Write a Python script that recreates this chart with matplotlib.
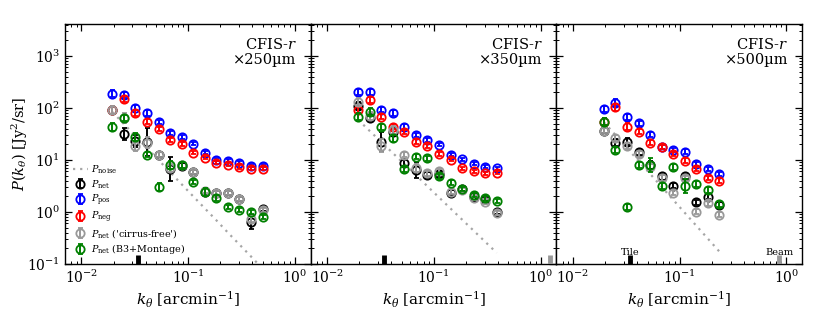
import numpy as np
import matplotlib
matplotlib.use("Agg")
import matplotlib.pyplot as plt

plt.rcParams['font.family'] = ['DejaVu Serif']
plt.rcParams['mathtext.fontset'] = 'dejavuserif'

# ---------------- data ----------------
k_bins = [0.0195, 0.0250, 0.0321, 0.0412, 0.0529, 0.0678, 0.0870,
          0.1116, 0.1432, 0.1838, 0.2358, 0.3025, 0.3881, 0.4980]

bands = ["250", "350", "500"]
n_bins = [14, 13, 11]

# Panel 1 : 250 micron
p1_noise = [83, 49, 28.6, 16.8, 9.9, 5.8, 3.39, 1.99, 1.17, 0.69, 0.40, 0.236, 0.139, 0.081]
p1_net = [91.5, 31.6, 22.8, 22.2, 12.5, 6.7, 7.7, 5.9, 2.42, 2.32, 2.32, 1.78, 0.64, 1.14]
p1_pos = [186, 178, 100, 80, 54, 33, 27.7, 20.3, 13.6, 10, 9.6, 8.75, 7.7, 7.7]
p1_neg = [91.5, 149, 80, 54, 39.5, 24.2, 20.3, 13.6, 10.9, 8.75, 8.0, 7.3, 6.7, 6.7]
p1_cf = [91.5, 64, 18.6, 21.5, 12.5, 7.0, 8.0, 5.9, 2.5, 2.32, 2.32, 1.78, 0.73, 1.09]
p1_b3 = [43, 64, 27.7, 12.5, 3.0, 8.0, 8.0, 3.7, 2.42, 1.83, 1.25, 1.09, 1.0, 0.80]
p1_net_err = [0.08, 0.12, 0.12, 0.27, 0.05, 0.23, 0.05, 0.04, 0.05, 0.04, 0.04, 0.04, 0.14, 0.04]
p1_pos_err = [0.07, 0.06, 0.05, 0.05, 0.04, 0.04, 0.04, 0.03, 0.03, 0.03, 0.03, 0.03, 0.03, 0.03]
p1_neg_err = [0.07, 0.06, 0.05, 0.05, 0.04, 0.04, 0.04, 0.03, 0.03, 0.03, 0.03, 0.03, 0.03, 0.03]
p1_cf_err = [0.08, 0.10, 0.10, 0.10, 0.05, 0.08, 0.05, 0.04, 0.04, 0.04, 0.04, 0.04, 0.06, 0.04]
p1_b3_err = [0.07, 0.05, 0.08, 0.05, 0.07, 0.07, 0.05, 0.04, 0.07, 0.06, 0.04, 0.04, 0.04, 0.04]

# Panel 2 : 350 micron
p2_noise = [59, 36, 22.1, 13.5, 8.3, 5.1, 3.1, 1.9, 1.16, 0.71, 0.435, 0.266, 0.163]
p2_net = [111, 64, 22.5, 34.5, 8.6, 6.4, 5.1, 5.3, 2.35, 2.73, 1.97, 1.75, 0.99]
p2_pos = [200, 200, 91.5, 80, 43.7, 30.3, 24.2, 19.4, 12.5, 10.3, 8.4, 7.4, 6.9]
p2_neg = [91.5, 143, 68, 43.7, 35, 22.5, 18.8, 13, 10, 6.9, 6.0, 5.5, 5.7]
p2_cf = [132, 70, 18.8, 37.8, 12.5, 7.0, 5.5, 6.0, 2.46, 2.65, 1.83, 1.58, 0.94]
p2_b3 = [68, 85, 43, 26, 6.6, 11.6, 10.8, 4.8, 3.66, 2.73, 2.12, 1.83, 1.63]
p2_net_err = [0.07, 0.07, 0.19, 0.08, 0.06, 0.15, 0.05, 0.05, 0.04, 0.04, 0.04, 0.04, 0.04]
p2_pos_err = [0.06, 0.06, 0.05, 0.05, 0.04, 0.04, 0.04, 0.03, 0.03, 0.03, 0.03, 0.03, 0.03]
p2_neg_err = [0.06, 0.06, 0.05, 0.05, 0.04, 0.04, 0.04, 0.03, 0.03, 0.03, 0.03, 0.03, 0.03]
p2_cf_err = [0.07, 0.07, 0.12, 0.08, 0.05, 0.08, 0.05, 0.04, 0.04, 0.04, 0.04, 0.04, 0.04]
p2_b3_err = [0.07, 0.07, 0.06, 0.07, 0.05, 0.05, 0.05, 0.04, 0.04, 0.04, 0.04, 0.05, 0.04]

# Panel 3 : 500 micron
p3_noise = [53, 30, 16.9, 9.5, 5.36, 3.02, 1.70, 0.96, 0.541, 0.305, 0.172]
p3_net = [36.1, 21.5, 22.5, 14.4, 8.0, 4.8, 3.16, 4.8, 1.54, 1.97, 1.36]
p3_pos = [94, 126, 66, 50.8, 30.3, 18, 15.6, 14.4, 8.4, 6.6, 5.4]
p3_neg = [54.5, 103, 43.7, 35, 21.5, 17.5, 13, 9.7, 6.6, 4.4, 4.0]
p3_cf = [36.1, 26.5, 18.6, 13, 7.3, 4.5, 2.35, 4.4, 1.01, 1.47, 0.875]
p3_b3 = [54.5, 15.6, 1.26, 8.0, 8.0, 3.16, 7.2, 3.16, 3.45, 2.65, 1.43]
p3_net_err = [0.05, 0.06, 0.06, 0.06, 0.08, 0.06, 0.05, 0.05, 0.05, 0.05, 0.05]
p3_pos_err = [0.06, 0.07, 0.06, 0.05, 0.05, 0.04, 0.04, 0.05, 0.04, 0.04, 0.04]
p3_neg_err = [0.06, 0.07, 0.06, 0.05, 0.05, 0.04, 0.04, 0.05, 0.04, 0.04, 0.04]
p3_cf_err = [0.05, 0.06, 0.06, 0.06, 0.06, 0.06, 0.05, 0.05, 0.05, 0.05, 0.05]
p3_b3_err = [0.06, 0.06, 0.06, 0.06, 0.13, 0.06, 0.06, 0.13, 0.05, 0.06, 0.06]

tile_k = 0.034
beam_k = [None, 1.22, 0.86]

noise_list = [p1_noise, p2_noise, p3_noise]
series_lists = [
    [(p1_net, p1_net_err), (p1_pos, p1_pos_err), (p1_neg, p1_neg_err), (p1_cf, p1_cf_err), (p1_b3, p1_b3_err)],
    [(p2_net, p2_net_err), (p2_pos, p2_pos_err), (p2_neg, p2_neg_err), (p2_cf, p2_cf_err), (p2_b3, p2_b3_err)],
    [(p3_net, p3_net_err), (p3_pos, p3_pos_err), (p3_neg, p3_neg_err), (p3_cf, p3_cf_err), (p3_b3, p3_b3_err)],
]
series_colors = ['k', 'b', 'r', '0.6', 'g']
series_labels = [r'$P_{\rm net}$', r'$P_{\rm pos}$', r'$P_{\rm neg}$',
                 r"$P_{\rm net}$ ('cirrus-free')", r'$P_{\rm net}$ (B3+Montage)']

# ---------------- figure ----------------
fig, axes = plt.subplots(1, 3, figsize=(8.22, 3.16), dpi=100, sharey=True,
                         gridspec_kw=dict(wspace=0))
fig.subplots_adjust(left=0.079, right=0.976, bottom=0.165, top=0.924)

for i, ax in enumerate(axes):
    n = n_bins[i]
    k = np.array(k_bins[:n])
    ax.plot(k, noise_list[i], ls=(0, (1, 2.2)), color='0.65', lw=1.6,
            label=r'$P_{\rm noise}$', zorder=1)
    for j, (vals, errs) in enumerate(series_lists[i]):
        v = np.array(vals)
        e = np.array(errs)
        lo = v * (1 - 10 ** (-e))
        hi = v * (10 ** e - 1)
        ax.errorbar(k, v, yerr=[lo, hi], fmt='o', mfc='none', mec=series_colors[j],
                    ecolor=series_colors[j], ms=6, mew=1.3, elinewidth=1.4,
                    capsize=1.8, capthick=1.2, label=series_labels[j], zorder=2 + j)
    # Tile marker
    ax.plot([tile_k, tile_k], [0.1, 0.145], color='k', lw=3.5,
            solid_capstyle='butt', zorder=6)
    if beam_k[i] is not None:
        ax.plot([beam_k[i], beam_k[i]], [0.1, 0.145], color='0.6', lw=3.5,
                solid_capstyle='butt', zorder=6)
    ax.set_xscale('log')
    ax.set_yscale('log')
    ax.set_xlim(0.007, 1.41)
    ax.set_ylim(0.1, 4.1e3)
    ax.tick_params(which='both', direction='in', top=True, right=True, labelsize=10)
    ax.tick_params(which='major', length=5, width=0.9)
    ax.tick_params(which='minor', length=2.5, width=0.7)
    ax.set_xlabel(r'$k_\theta$ [arcmin$^{-1}$]', fontsize=11, labelpad=3)
    ax.text(0.943, 0.946, "CFIS-$r$\n" + "\u00d7" + bands[i] + "\u00b5m",
            transform=ax.transAxes, ha='right', va='top', fontsize=10.5,
            linespacing=1.05)
    for s in ax.spines.values():
        s.set_linewidth(1.0)

axes[2].text(tile_k, 0.148, 'Tile', ha='center', va='baseline', fontsize=7)
axes[2].text(beam_k[2], 0.148, 'Beam', ha='center', va='baseline', fontsize=7)

axes[0].set_ylabel(r'$P(k_\theta)$ [Jy$^2$/sr]', fontsize=10.5, labelpad=-2)
axes[0].legend(loc='lower left', frameon=False, fontsize=6.9, handlelength=1.6,
               handletextpad=0.35, labelspacing=0.22, borderaxespad=0.4)

fig.savefig('out.png', dpi=100)
